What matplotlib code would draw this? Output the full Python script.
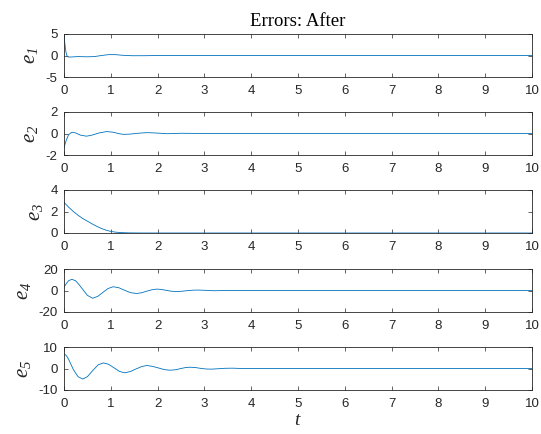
import matplotlib
matplotlib.use("Agg")
import matplotlib.pyplot as plt

# error signals (time, value pairs)
t1 = [0, 0.02, 0.04, 0.06, 0.09, 0.15, 0.3, 0.5, 0.65, 0.8, 0.95, 1.1, 1.25, 1.45, 1.7, 2.0, 10]
e1 = [4.3, 2.6, 0.9, 0.0, -0.35, -0.35, -0.25, -0.3, -0.25, 0.0, 0.2, 0.2, 0.05, -0.05, -0.05, 0.0, 0.0]

t2 = [0, 0.05, 0.10, 0.17, 0.25, 0.35, 0.48, 0.6, 0.75, 0.91, 1.05, 1.18, 1.27, 1.4, 1.6, 1.77,
      1.95, 2.2, 2.5, 3.0, 10]
e2 = [-1.3, -0.6, -0.1, 0.12, 0.05, -0.15, -0.25, -0.15, 0.05, 0.18, 0.12, -0.02, -0.08, -0.06,
      0.03, 0.08, 0.05, -0.02, 0.02, 0.0, 0.0]

t3 = [0, 0.1, 0.2, 0.3, 0.4, 0.5, 0.6, 0.7, 0.8, 0.9, 1.0, 1.1, 1.2, 1.4, 1.7, 10]
e3 = [2.85, 2.4, 2.0, 1.65, 1.35, 1.1, 0.85, 0.62, 0.42, 0.26, 0.15, 0.08, 0.04, 0.01, 0.0, 0.0]

t4 = [0, 0.05, 0.10, 0.17, 0.25, 0.33, 0.40, 0.50, 0.61, 0.72, 0.83, 0.94, 1.05, 1.17, 1.29,
      1.42, 1.55, 1.66, 1.77, 1.88, 1.98, 2.08, 2.18, 2.28, 2.40, 2.52, 2.64, 2.76, 2.86, 3.0,
      3.2, 3.5, 4, 10]
e4 = [3.1, 6.5, 9.2, 10.4, 9.0, 5.0, 1.0, -4.5, -7.2, -5.5, -1.8, 1.8, 3.5, 2.6, 0.3,
      -2.0, -2.8, -2.1, -0.6, 0.7, 1.3, 1.0, 0.2, -0.6, -1.0, -0.7, -0.1, 0.3, 0.4, 0.2,
      -0.2, 0.0, 0.0, 0.0]

t5 = [0, 0.05, 0.10, 0.20, 0.30, 0.40, 0.50, 0.62, 0.73, 0.84, 0.95, 1.07, 1.19, 1.30, 1.42,
      1.54, 1.66, 1.77, 1.89, 2.01, 2.14, 2.26, 2.38, 2.50, 2.60, 2.70, 2.82, 2.94, 3.05, 3.15,
      3.3, 3.45, 3.6, 3.8, 4.2, 10]
e5 = [6.9, 6.0, 4.2, -0.5, -3.8, -4.9, -3.8, -0.8, 1.7, 2.6, 2.0, 0.3, -1.4, -2.0, -1.4,
      -0.2, 0.9, 1.4, 1.0, 0.3, -0.5, -0.8, -0.6, 0.0, 0.45, 0.6, 0.4, 0.0, -0.25, -0.3,
      -0.1, 0.1, 0.15, 0.0, 0.0, 0.0]

series = [(t1, e1), (t2, e2), (t3, e3), (t4, e4), (t5, e5)]
ylims = [(-5, 5), (-2, 2), (0, 4), (-20, 20), (-10, 10)]
yticks = [[-5, 0, 5], [-2, 0, 2], [0, 2, 4], [-20, 0, 20], [-10, 0, 10]]
ylabels = [r"$e_{%d}$" % (i + 1) for i in range(5)]
xticks = list(range(0, 11))

# all math text is italic Times-like (digits too), ticks Arial-like
plt.rcParams["mathtext.fontset"] = "custom"
plt.rcParams["mathtext.it"] = "Liberation Serif:italic"
plt.rcParams["mathtext.rm"] = "Liberation Serif:italic"
plt.rcParams["font.family"] = "Liberation Sans"
plt.rcParams["axes.unicode_minus"] = False

W, H = 541, 434
fig = plt.figure(figsize=(W / 100, H / 100), dpi=100)
fig.patch.set_facecolor("white")

axcol = "#262626"
left, right = 64, 532
tops = [34, 112, 190, 269, 347]
ah = 43

axes = []
for i, (tt, ee) in enumerate(series):
    ax = fig.add_axes([left / W, 1 - (tops[i] + ah) / H, (right - left) / W, ah / H])
    ax.plot(tt, ee, color="#0072BD", linewidth=0.6)
    ax.set_xlim(0, 10)
    ax.set_ylim(*ylims[i])
    ax.set_xticks(xticks)
    ax.set_yticks(yticks[i])
    ax.tick_params(direction="in", length=3, width=0.5, colors=axcol,
                   labelsize=9.5, top=True, right=True)
    ax.tick_params(axis="x", pad=6)
    ax.tick_params(axis="y", pad=4.5)
    for sp in ax.spines.values():
        sp.set_linewidth(0.6)
        sp.set_color(axcol)
    ax.set_ylabel(ylabels[i], fontsize=15, color=axcol, labelpad=4)
    axes.append(ax)

axes[0].set_title("Errors: After", fontfamily="Liberation Serif", fontsize=13.5,
                  color="black", pad=6)
axes[-1].set_xlabel(r"$t$", fontsize=14, color=axcol, labelpad=1)

fig.savefig("out.png", dpi=100)
